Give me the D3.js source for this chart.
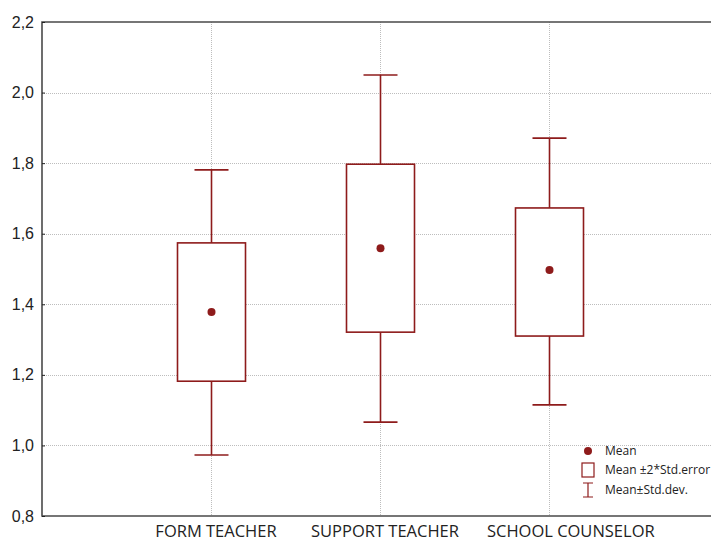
<!DOCTYPE html>
<html>
<head>
<meta charset="utf-8">
<script src="https://cdn.jsdelivr.net/npm/d3@7"></script>
<style>
  html, body { margin: 0; padding: 0; background: #fff; }
  svg { display: block; }
</style>
</head>
<body>
<svg id="chart" width="711" height="543"></svg>
<script>
// Group summary statistics
const categories = ["FORM TEACHER", "SUPPORT TEACHER", "SCHOOL COUNSELOR"];
const means      = [1.378, 1.559, 1.497];
const seLow      = [1.182, 1.321, 1.310];   // mean - 2*SE
const seHigh     = [1.574, 1.797, 1.673];   // mean + 2*SE
const sdLow      = [0.973, 1.066, 1.115];   // mean - SD
const sdHigh     = [1.781, 2.050, 1.871];   // mean + SD
const yTicks     = [0.8, 1.0, 1.2, 1.4, 1.6, 1.8, 2.0, 2.2];
const legendLabels = ["Mean", "Mean \u00B12*Std.error", "Mean\u00B1Std.dev."];

const color = "#8e1b1b";
const svg = d3.select("#chart");

const plotLeft = 42, plotTop = 22, plotBottom = 516, plotRight = 718;

const x = d3.scaleLinear().domain([0, categories.length + 1]).range([plotLeft, plotRight]);
const y = d3.scaleLinear().domain([0.8, 2.2]).range([plotBottom, plotTop]);

// Dotted grid
svg.append("g").selectAll("line")
  .data(yTicks.filter(t => t > 0.8 && t < 2.2))
  .join("line")
  .attr("x1", plotLeft).attr("x2", plotRight)
  .attr("y1", d => Math.round(y(d)) + 0.5).attr("y2", d => Math.round(y(d)) + 0.5)
  .attr("stroke", "#bdbdbd").attr("stroke-width", 1).attr("stroke-dasharray", "1,1");

svg.append("g").selectAll("line")
  .data(categories)
  .join("line")
  .attr("x1", (d, i) => Math.round(x(i + 1)) + 0.5).attr("x2", (d, i) => Math.round(x(i + 1)) + 0.5)
  .attr("y1", plotTop).attr("y2", plotBottom)
  .attr("stroke", "#bdbdbd").attr("stroke-width", 1).attr("stroke-dasharray", "1,1");

// Frame
svg.append("path")
  .attr("d", `M${plotRight},${plotTop}H${plotLeft}V${plotBottom}H${plotRight}`)
  .attr("fill", "none").attr("stroke", "#4a4a4a").attr("stroke-width", 1.6);

// Y axis labels and inward ticks
const yAxis = d3.axisLeft(y).tickValues(yTicks)
  .tickFormat(d => d3.format(".1f")(d).replace(".", ","))
  .tickSizeInner(-3).tickSizeOuter(0).tickPadding(8);
const ya = svg.append("g").attr("transform", `translate(${plotLeft},0)`).call(yAxis);
ya.select(".domain").remove();
ya.selectAll("line").attr("stroke", "#222");
ya.selectAll("text")
  .attr("font-family", "Liberation Sans, Arial, sans-serif")
  .attr("font-size", 16).attr("fill", "#222");

// Category labels: centred under each group, nudged right if they would collide
const catText = svg.append("g").selectAll("text")
  .data(categories)
  .join("text")
  .attr("y", 537)
  .attr("text-anchor", "start")
  .attr("font-family", "Open Sans, Noto Sans, sans-serif")
  .attr("font-size", 16.5).attr("fill", "#222")
  .text(d => d);
let prevRight = -Infinity;
catText.each(function (d, i) {
  const w = this.getComputedTextLength();
  let lx0 = x(i + 1) + 5 - w / 2;
  if (lx0 < prevRight + 28) lx0 = prevRight + 28;
  d3.select(this).attr("x", lx0);
  prevRight = lx0 + w;
});

// Whiskers (mean ± SD), boxes (mean ± 2*SE), mean points
const boxHalf = 34, capHalf = 17;
const g = svg.append("g");
categories.forEach((c, i) => {
  const cx = Math.round(x(i + 1)) + 0.5;
  // upper whisker
  g.append("line").attr("x1", cx).attr("x2", cx)
    .attr("y1", y(sdHigh[i])).attr("y2", y(seHigh[i]))
    .attr("stroke", color).attr("stroke-width", 1.6);
  g.append("line").attr("x1", cx - capHalf).attr("x2", cx + capHalf)
    .attr("y1", y(sdHigh[i])).attr("y2", y(sdHigh[i]))
    .attr("stroke", color).attr("stroke-width", 1.6);
  // lower whisker
  g.append("line").attr("x1", cx).attr("x2", cx)
    .attr("y1", y(seLow[i])).attr("y2", y(sdLow[i]))
    .attr("stroke", color).attr("stroke-width", 1.6);
  g.append("line").attr("x1", cx - capHalf).attr("x2", cx + capHalf)
    .attr("y1", y(sdLow[i])).attr("y2", y(sdLow[i]))
    .attr("stroke", color).attr("stroke-width", 1.6);
  // box
  g.append("rect")
    .attr("x", cx - boxHalf).attr("width", boxHalf * 2)
    .attr("y", y(seHigh[i])).attr("height", y(seLow[i]) - y(seHigh[i]))
    .attr("fill", "#fff").attr("stroke", color).attr("stroke-width", 1.6);
  // mean
  g.append("circle").attr("cx", cx).attr("cy", y(means[i])).attr("r", 4)
    .attr("fill", color);
});

// Legend
const lg = svg.append("g").attr("font-family", "Open Sans, Noto Sans, sans-serif")
  .attr("font-size", 12).attr("fill", "#222");
const lx = 588, ly = [451, 470, 490];
lg.append("circle").attr("cx", lx).attr("cy", ly[0]).attr("r", 4).attr("fill", color);
lg.append("rect").attr("x", lx - 6).attr("y", ly[1] - 7).attr("width", 12).attr("height", 14)
  .attr("fill", "#fff").attr("stroke", color).attr("stroke-width", 1.2);
lg.append("path").attr("d", `M${lx - 5},${ly[2] - 7}H${lx + 5}M${lx},${ly[2] - 7}V${ly[2] + 7}M${lx - 5},${ly[2] + 7}H${lx + 5}`)
  .attr("stroke", color).attr("stroke-width", 1.2).attr("fill", "none");
lg.selectAll("text.lbl").data(legendLabels).join("text")
  .attr("class", "lbl")
  .attr("x", 605).attr("y", (d, i) => ly[i] + 4)
  .text(d => d);
</script>
</body>
</html>
